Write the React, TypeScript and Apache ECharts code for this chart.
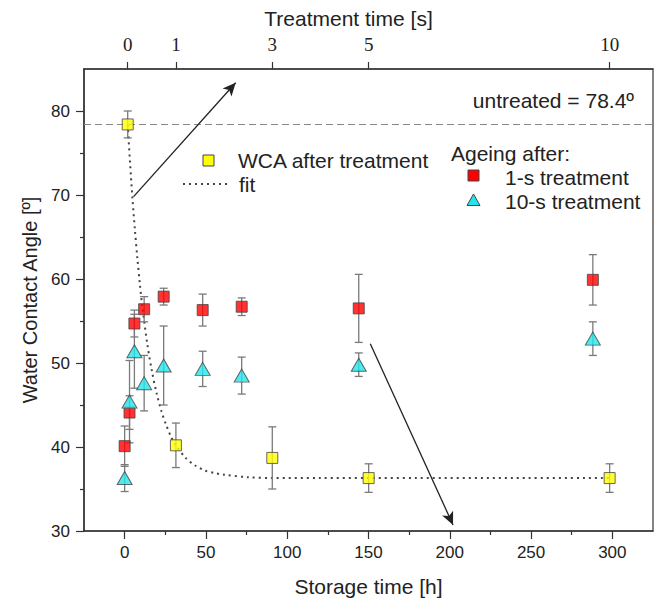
import React, { useEffect, useRef } from "react";
import * as echarts from "echarts";

// ---- data ----
const storageHours = [0, 3, 6, 12, 24, 48, 72, 144, 288];
const ageing1s = [40.1, 44.1, 54.7, 56.4, 57.9, 56.3, 56.7, 56.5, 59.9];
const ageing1sErr = [2.4, 2.0, 1.6, 1.5, 1.0, 1.9, 1.05, 4.05, 3.0];
const ageing10s = [36.3, 45.4, 51.4, 47.6, 49.7, 49.3, 48.5, 49.8, 52.9];
const ageing10sErr = [1.6, 4.9, 4.4, 3.3, 4.7, 2.1, 2.2, 1.4, 2.0];

const treatmentSec = [0, 1, 3, 5, 10];
const wcaAfter = [78.4, 40.2, 38.7, 36.3, 36.3];
const wcaAfterErr = [1.6, 2.65, 3.7, 1.7, 1.7];

const fitT = [0, 0.05, 0.1, 0.15, 0.2, 0.25, 0.3, 0.4, 0.5, 0.6, 0.7, 0.8, 0.9, 1.0, 1.2, 1.4, 1.6, 1.8, 2.0, 2.5, 3, 4, 5, 6, 8, 10];
const fitV = [78.4, 73.7, 69.5, 65.8, 62.5, 59.5, 56.9, 52.5, 49.1, 46.4, 44.25, 42.6, 41.2, 40.2, 38.7, 37.8, 37.2, 36.9, 36.7, 36.4, 36.3, 36.3, 36.3, 36.3, 36.3, 36.3];

const untreatedWCA = 78.4;

const bottomTicks = [0, 50, 100, 150, 200, 250, 300];
const bottomMinorTicks = [25, 75, 125, 175, 225, 275];
const topTicks = [0, 1, 3, 5, 10];
const yTicks = [30, 40, 50, 60, 70, 80];
const yMinorTicks = [35, 45, 55, 65, 75];

// annotation arrows [startH, startV, endH, endV] in storage-hour / angle units
const arrow1 = [5.5, 69.8, 68.3, 83.36];
const arrow2 = [151.1, 52.3, 202.0, 30.72];

const SANS = "'Liberation Sans', Arial, sans-serif";
const SERIF = "'Liberation Serif', 'Times New Roman', serif";
const TXT = "#222";
const AX = "#333";
const YELLOW = "#ffff00";
const RED = "#ff0000";
const CYAN = "#22e6ee";
const MARK_BORDER = "#444";

function errorBars(name: string, xs: number[], ys: number[], errs: number[], xAxisIndex: number) {
  return {
    type: "custom",
    name,
    xAxisIndex,
    yAxisIndex: 0,
    z: 2,
    silent: true,
    data: xs.map((x, i) => [x, ys[i], errs[i]]),
    encode: { x: 0, y: 1 },
    renderItem: (_params: any, api: any) => {
      const x = api.value(0);
      const v = api.value(1);
      const e = api.value(2);
      const top = api.coord([x, v + e]);
      const bot = api.coord([x, v - e]);
      const w = 4;
      const style = { stroke: "#7a7a7a", lineWidth: 1.3 };
      return {
        type: "group",
        children: [
          { type: "line", shape: { x1: top[0], y1: top[1], x2: bot[0], y2: bot[1] }, style },
          { type: "line", shape: { x1: top[0] - w, y1: top[1], x2: top[0] + w, y2: top[1] }, style },
          { type: "line", shape: { x1: bot[0] - w, y1: bot[1], x2: bot[0] + w, y2: bot[1] }, style },
        ],
      };
    },
  };
}

function legendText(text: string, x: number, y: number) {
  return { type: "text", x, y, style: { text, fontSize: 21, fill: TXT, fontFamily: SANS, align: "left", verticalAlign: "middle" } };
}

export default function App() {
  const ref = useRef<HTMLDivElement>(null);
  useEffect(() => {
    if (!ref.current) return;
    const chart = echarts.init(ref.current, undefined, { renderer: "svg" });
    const markerBorder = { borderColor: MARK_BORDER, borderWidth: 1 };
    chart.setOption({
      animation: false,
      backgroundColor: "#fff",
      textStyle: { fontFamily: SANS },
      grid: {
        left: 84, right: 3, top: 69, bottom: 67, containLabel: false, outerBoundsMode: "none",
        show: true, borderColor: AX, borderWidth: 1.2, backgroundColor: "transparent",
      },
      xAxis: [
        {
          type: "value", position: "bottom", min: -25, max: 325,
          axisLine: { show: true, onZero: false, lineStyle: { color: AX, width: 1.5 } },
          axisTick: { show: true, customValues: bottomTicks, length: 8, lineStyle: { color: AX, width: 1.2 } },
          axisLabel: { customValues: bottomTicks, fontSize: 17, color: TXT, margin: 13, fontFamily: SANS },
          splitLine: { show: false },
          name: "Storage time [h]", nameLocation: "middle", nameGap: 45,
          nameTextStyle: { fontSize: 21, color: TXT, fontFamily: SANS },
        },
        {
          type: "value", position: "bottom", min: -25, max: 325,
          axisLine: { show: false, onZero: false },
          axisTick: { show: true, customValues: bottomMinorTicks, length: 4, lineStyle: { color: AX, width: 1.2 } },
          axisLabel: { show: false },
          splitLine: { show: false },
        },
        {
          type: "value", position: "top", min: -0.907, max: 10.9,
          axisLine: { show: true, onZero: false, lineStyle: { color: AX, width: 1.5 } },
          axisTick: { show: true, customValues: topTicks, length: 7, lineStyle: { color: AX, width: 1.2 } },
          axisLabel: { customValues: topTicks, fontSize: 19, color: TXT, margin: 15, fontFamily: SERIF },
          splitLine: { show: false },
        },
      ],
      yAxis: [
        {
          type: "value", position: "left", min: 30, max: 85,
          axisLine: { show: true, onZero: false, lineStyle: { color: AX, width: 1.5 } },
          axisTick: { show: true, customValues: yTicks, length: 8, lineStyle: { color: AX, width: 1.2 } },
          axisLabel: { customValues: yTicks, fontSize: 17, color: TXT, margin: 14, fontFamily: SANS },
          splitLine: { show: false },
          name: "Water Contact Angle [º]", nameLocation: "middle", nameGap: 41,
          nameTextStyle: { fontSize: 20, color: TXT, fontFamily: SANS },
        },
        {
          type: "value", position: "left", min: 30, max: 85,
          axisLine: { show: false, onZero: false },
          axisTick: { show: true, customValues: yMinorTicks, length: 4, lineStyle: { color: AX, width: 1.2 } },
          axisLabel: { show: false },
          splitLine: { show: false },
        },
      ],
      graphic: [
        { type: "text", x: 348.5, y: 18, style: { text: "Treatment time [s]", fontSize: 21, fill: TXT, fontFamily: SANS, align: "center", verticalAlign: "middle" } },
        { type: "text", x: 634, y: 100, style: { text: "untreated = 78.4º", fontSize: 21, fill: TXT, fontFamily: SANS, align: "right", verticalAlign: "middle" } },
        // legend: treatment group
        { type: "rect", shape: { x: 203, y: 155, width: 11, height: 11 }, style: { fill: YELLOW, stroke: MARK_BORDER, lineWidth: 1 } },
        legendText("WCA after treatment", 238, 160),
        { type: "line", shape: { x1: 183, y1: 184, x2: 231, y2: 184 }, style: { stroke: "#444", lineWidth: 2, lineDash: [2, 4] } },
        legendText("fit", 239, 184),
        // legend: ageing group
        legendText("Ageing after:", 451, 153),
        { type: "rect", shape: { x: 468, y: 170, width: 11, height: 11 }, style: { fill: RED, stroke: MARK_BORDER, lineWidth: 1 } },
        legendText("1-s treatment", 505, 177),
        { type: "polygon", shape: { points: [[473.5, 194], [480, 205.5], [467, 205.5]] }, style: { fill: CYAN, stroke: MARK_BORDER, lineWidth: 1 } },
        legendText("10-s treatment", 505, 201),
      ],
      series: [
        {
          type: "line", name: "fit", xAxisIndex: 2, yAxisIndex: 0, z: 1,
          data: fitT.map((t, i) => [t, fitV[i]]),
          symbol: "none", smooth: 0.3,
          lineStyle: { color: "#444", width: 2, type: [2, 4] },
          markLine: {
            silent: true, symbol: ["none", "none"], label: { show: false },
            lineStyle: { color: "#888", width: 1.2, type: [7, 4] },
            data: [{ yAxis: untreatedWCA }],
          },
        },
        errorBars("err-wca", treatmentSec, wcaAfter, wcaAfterErr, 2),
        errorBars("err-1s", storageHours, ageing1s, ageing1sErr, 0),
        errorBars("err-10s", storageHours, ageing10s, ageing10sErr, 0),
        {
          type: "scatter", name: "WCA after treatment", xAxisIndex: 2, yAxisIndex: 0, z: 5,
          data: treatmentSec.map((t, i) => [t, wcaAfter[i]]),
          symbol: "rect", symbolSize: 11,
          itemStyle: { color: YELLOW, ...markerBorder },
        },
        {
          type: "scatter", name: "1-s treatment", xAxisIndex: 0, yAxisIndex: 0, z: 5,
          data: storageHours.map((h, i) => [h, ageing1s[i]]),
          symbol: "rect", symbolSize: 11,
          itemStyle: { color: RED, ...markerBorder },
          markLine: {
            silent: true, symbol: ["none", "arrow"], symbolSize: [9, 13], label: { show: false },
            lineStyle: { color: "#222", width: 1.3, type: "solid" },
            data: [
              [{ coord: [arrow1[0], arrow1[1]] }, { coord: [arrow1[2], arrow1[3]] }],
              [{ coord: [arrow2[0], arrow2[1]] }, { coord: [arrow2[2], arrow2[3]] }],
            ],
          },
        },
        {
          type: "scatter", name: "10-s treatment", xAxisIndex: 0, yAxisIndex: 0, z: 5,
          data: storageHours.map((h, i) => [h, ageing10s[i]]),
          symbol: "triangle", symbolSize: [15, 13],
          itemStyle: { color: CYAN, ...markerBorder },
        },
      ],
    });
    return () => chart.dispose();
  }, []);
  return <div ref={ref} style={{ position: "fixed", left: 0, top: 0, width: 656, height: 598 }} />;
}
